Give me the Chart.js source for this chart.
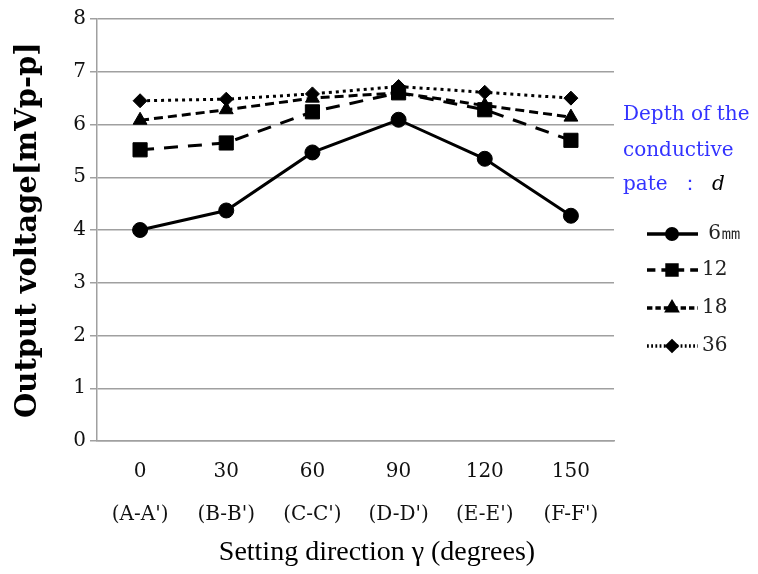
<!DOCTYPE html>
<html>
<head>
<meta charset="utf-8">
<script src="https://cdn.jsdelivr.net/npm/chart.js@4"></script>
<style>
  html, body { margin: 0; padding: 0; background: #fff; }
  #wrap { position: relative; width: 758px; height: 574px; }
</style>
</head>
<body>
<div id="wrap"><canvas id="c" width="758" height="574"></canvas></div>
<script>
// ---- data ----
const angles = ["0", "30", "60", "90", "120", "150"];
const directions = ["(A-A')", "(B-B')", "(C-C')", "(D-D')", "(E-E')", "(F-F')"];
const seriesLabels = [" 6㎜", "12", "18", "36"];
const depth6 = [4.0, 4.37, 5.47, 6.09, 5.35, 4.27];
const depth12 = [5.52, 5.65, 6.24, 6.6, 6.28, 5.7];
const depth18 = [6.08, 6.28, 6.5, 6.6, 6.36, 6.14];
const depth36 = [6.45, 6.48, 6.58, 6.72, 6.61, 6.5];
const yTicks = [0, 1, 2, 3, 4, 5, 6, 7, 8];
const yTitle = "Output voltage[mVp-p]";
const xTitle = "Setting direction γ (degrees)";
const legendTitle = ["Depth of the", "conductive", "pate"];

const labels = angles.map((a, i) => [a, directions[i]]);

function ds(label, data, dash, style, radius) {
  return {
    label, data,
    borderColor: "#000", backgroundColor: "#000",
    borderWidth: 3, borderDash: dash,
    pointStyle: style, pointRadius: radius, pointHoverRadius: radius,
    pointBorderWidth: 1, pointBackgroundColor: "#000", pointBorderColor: "#000",
    tension: 0, fill: false
  };
}

const datasets = [
  ds(seriesLabels[0], depth6, [], "circle", 7.5),
  ds(seriesLabels[1], depth12, [14, 10], "rect", 10),
  ds(seriesLabels[2], depth18, [9, 5], "triangle", 8),
  ds(seriesLabels[3], depth36, [3, 4], "rectRot", 7)
];

const legendPlugin = {
  id: "customLegend",
  afterDraw(chart) {
    const ctx = chart.ctx;
    ctx.save();
    // legend title
    ctx.font = "20px 'DejaVu Serif'";
    ctx.fillStyle = "#3333ff";
    ctx.textBaseline = "middle";
    ctx.textAlign = "left";
    const ty = [115, 151, 185];
    legendTitle.forEach((t, i) => ctx.fillText(t, 623, ty[i]));
    ctx.fillText("：", 680, 185);
    ctx.fillStyle = "#000";
    ctx.font = "italic 20px 'DejaVu Serif'";
    ctx.fillText("d", 712, 185);
    // entries
    const ys = [234, 270, 308, 346];
    chart.data.datasets.forEach((d, i) => {
      const y = ys[i];
      ctx.strokeStyle = d.borderColor;
      ctx.lineWidth = d.borderWidth + 0.5;
      ctx.setLineDash(d.borderDash.map(v => v * 0.6));
      ctx.beginPath();
      ctx.moveTo(647, y);
      ctx.lineTo(698, y);
      ctx.stroke();
      ctx.setLineDash([]);
      Chart.helpers.drawPoint(ctx, { pointStyle: d.pointStyle, radius: d.pointRadius * 0.7, borderWidth: 1 }, 672, y);
      ctx.fillStyle = "#000";
      ctx.fill();
      ctx.fillStyle = "#222";
      ctx.font = "20px 'DejaVu Serif'";
      ctx.fillText(d.label, 702, y);
    });
    // x axis title
    ctx.fillStyle = "#000";
    ctx.font = "28px 'Liberation Serif'";
    ctx.textAlign = "center";
    ctx.fillText(xTitle, 377, 553);
    ctx.restore();
  }
};

new Chart(document.getElementById("c"), {
  type: "line",
  data: { labels, datasets },
  options: {
    responsive: false,
    animation: false,
    events: [],
    layout: { padding: { top: 19, right: 144, left: 0, bottom: 0 } },
    plugins: { legend: { display: false }, tooltip: { enabled: false } },
    scales: {
      x: {
        offset: true,
        grid: { display: false, drawTicks: false },
        border: { display: true, color: "#a0a0a0", width: 1.5 },
        ticks: {
          color: "#111", padding: 9,
          font: { family: "'DejaVu Serif'", size: 20, lineHeight: 2.17 },
          maxRotation: 0, autoSkip: false
        },
        afterFit(s) { s.height = 133; }
      },
      y: {
        min: 0, max: 8,
        afterBuildTicks(s) { s.ticks = yTicks.map(v => ({ value: v })); },
        grid: { color: "#a0a0a0", lineWidth: 1.5, drawTicks: true, tickLength: 7, tickColor: "#a0a0a0" },
        border: { display: true, color: "#a0a0a0", width: 1.5 },
        ticks: { color: "#111", padding: 4, font: { family: "'DejaVu Serif'", size: 20 } },
        title: {
          display: true, text: yTitle, color: "#000",
          font: { family: "'DejaVu Serif'", size: 29, weight: "bold", lineHeight: 1.2 },
          padding: { top: 11, bottom: 0 }
        },
        afterFit(s) { s.width = 97; }
      }
    }
  },
  plugins: [legendPlugin]
});
</script>
</body>
</html>
